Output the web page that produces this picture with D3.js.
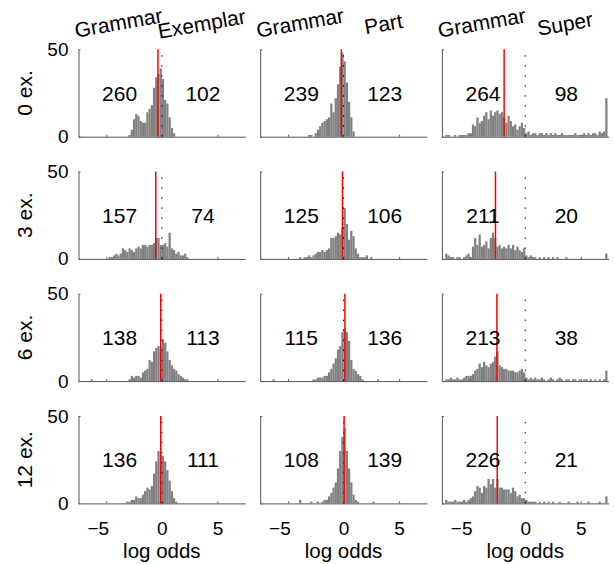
<!DOCTYPE html>
<html>
<head>
<meta charset="utf-8">
<title>Log odds histograms</title>
<style>
body { margin: 0; background: #fff; }
svg { font-family: "Liberation Sans", Arial, Helvetica, sans-serif; }
.axis path, .axis line { stroke: #555; }
.axis text { font-size: 19px; fill: #000; }
.bar { fill: #808080; }
.num, .title, .rowlab { font-size: 21px; fill: #000; }
.xlab { font-size: 20.5px; fill: #000; }
</style>
<script src="https://cdn.jsdelivr.net/npm/d3@7"></script>
</head>
<body>
<div id="chart"></div>
<script>
// labels
var rowLabels = ["0 ex.", "3 ex.", "6 ex.", "12 ex."];
var conditions = ["Exemplar", "Part", "Super"];
var xTicks = [-5, 0, 5];
var yTicks = [0, 50];

// numbers printed left / right of zero
var leftCounts = [[260, 239, 264], [157, 125, 211], [138, 115, 213], [136, 108, 226]];
var rightCounts = [[102, 123, 98], [74, 106, 20], [113, 136, 38], [111, 139, 21]];

// red marker position (log odds)
var redLine = [[-0.35, -0.2, -1.9], [-0.55, -0.1, -2.68], [-0.1, 0.12, -2.55], [-0.1, 0.05, -2.52]];

// histograms: bin width 0.2, first bin centre, then counts
var binWidth = 0.2;

var start0 = [-2.9, -3.1, -7.3];
var hist0 = [
  [1,4,10,13,12,9,8,8,14,16,18,28,34,36,39,33,21,19,11,5,2],
  [1,1,0,2,4,6,8,9,10,11,19,14,22,30,40,48,43,31,20,11,3],
  [0,1,1,0,0,1,0,1,1,1,1,2,2,7,6,11,8,9,12,14,10,15,12,14,15,13,14,11,8,12,9,6,7,4,6,8,5,
   2,3,1,2,2,1,2,2,1,2,1,2,1,2,1,1,2,1,1,1,1,1,2,1,1,1,2,1,2,1,2,2,1,3,2,3,22]
];

var start3 = [-4.7, -3.9, -7.3];
var hist3 = [
  [1,1,2,3,2,3,6,5,4,6,5,4,6,7,6,8,8,7,8,8,9,12,12,8,8,9,7,15,6,5,3,4,2,2,3,1],
  [1,0,1,1,2,1,2,3,4,4,5,4,5,6,12,12,13,15,14,18,29,20,11,16,13,6,3,1,1,1,2,0,1],
  [0,3,2,1,1,0,1,1,0,1,2,3,1,7,12,8,14,7,8,10,6,12,15,12,7,8,6,7,6,8,6,8,5,7,5,4,6,
   2,1,2,1,1,0,1,0,1,0,1,0,1,0,1,0,0,0,1,0,0,0,0,0,0,0,0,0,0,0,0,0,0,0,0,0,3]
];

var start6 = [-6.3, -6.3, -7.3];
var hist6 = [
  [1,0,0,0,0,0,0,0,0,0,0,0,0,0,0,0,0,1,3,2,3,3,2,5,6,7,12,11,17,19,20,19,24,22,17,12,9,7,6,4,3,2,1,1],
  [1,0,0,0,0,0,0,0,0,0,0,0,0,0,0,0,0,0,1,1,2,2,2,3,3,5,7,10,13,18,20,28,30,28,23,12,7,6,4,3,1,0,0,0,0,0,0,1],
  [0,1,1,2,1,1,2,1,1,2,3,3,3,4,6,7,10,8,11,9,8,10,11,14,17,9,8,7,7,6,6,6,5,5,6,7,5,
   2,1,2,1,2,1,1,2,1,0,1,2,1,0,1,2,1,0,1,1,0,1,1,0,1,0,1,1,0,1,0,1,0,1,0,1,6]
];

var start12 = [-3.1, -3.9, -7.3];
var hist12 = [
  [1,1,2,2,4,3,3,5,7,9,8,10,17,24,30,28,27,24,19,13,7,3,1],
  [2,0,0,0,0,1,0,0,1,0,1,2,2,4,6,9,12,20,30,38,43,30,20,12,5,2,1,0,0,0,0,0,0,1],
  [0,2,1,1,1,2,1,1,1,2,1,2,3,4,7,10,9,6,10,9,14,11,14,9,14,9,9,8,8,8,6,9,7,4,5,3,3,
   2,1,1,1,1,0,1,0,1,0,1,0,1,0,0,1,0,0,0,1,0,0,0,1,0,0,0,0,1,0,0,0,0,1,0,0,4]
];

var starts = [start0, start3, start6, start12];
var hists = [hist0, hist3, hist6, hist12];

// layout
var width = 615, height = 564;
var colX = [78.5, 260.2, 441.9];
var rowY = [49.3, 171.5, 293.7, 416];
var panelW = 166.7, panelH = 87.4;
var labelPos = [-3.8, 3.7];

var svg = d3.select("#chart").append("svg")
  .attr("width", width)
  .attr("height", height);

var x = d3.scaleLinear().domain([-7.5, 7.5]).range([0, panelW]);
var y = d3.scaleLinear().domain([0, 50]).range([panelH, 0]);
var bw = x(binWidth) - x(0);

rowLabels.forEach(function(rl, r) {
  conditions.forEach(function(cond, c) {
    var g = svg.append("g")
      .attr("transform", "translate(" + colX[c] + "," + rowY[r] + ")");

    var data = hists[r][c].map(function(n, i) {
      return {v: starts[r][c] + i * binWidth, n: n};
    }).filter(function(d) { return d.n > 0; });

    g.selectAll(".bar")
      .data(data).enter()
      .append("rect")
      .attr("class", "bar")
      .attr("x", d => x(d.v - binWidth / 2))
      .attr("width", bw)
      .attr("y", d => y(d.n))
      .attr("height", d => y(0) - y(d.n));

    // axes
    var xAxis = d3.axisBottom(x).tickValues(xTicks).tickSize(-2).tickSizeOuter(0).tickPadding(18)
      .tickFormat(d => r === rowLabels.length - 1 ? (d < 0 ? "\u2212" + Math.abs(d) : d) : "");
    var ax = g.append("g")
      .attr("class", "axis")
      .attr("transform", "translate(0," + y(0) + ")")
      .call(xAxis);
    ax.selectAll(".tick text").filter(d => d < 0).attr("dx", "-0.45em");

    var yAxis = d3.axisLeft(y).tickValues(yTicks).tickSize(-2).tickSizeOuter(0).tickPadding(10)
      .tickFormat(d => c === 0 ? d : "");
    g.append("g")
      .attr("class", "axis")
      .call(yAxis);
    g.selectAll(".axis .domain").attr("fill", "none");

    // zero line and marker
    g.append("line")
      .attr("x1", x(0)).attr("x2", x(0))
      .attr("y1", y(0)).attr("y2", y(50))
      .attr("stroke", "#000")
      .attr("stroke-width", 1)
      .attr("stroke-dasharray", "1.5,8.5");

    g.append("line")
      .attr("x1", x(redLine[r][c])).attr("x2", x(redLine[r][c]))
      .attr("y1", y(0)).attr("y2", y(50))
      .attr("stroke", "#ff0000")
      .attr("stroke-width", 1.5);

    // counts
    g.append("text").attr("class", "num")
      .attr("x", x(labelPos[0])).attr("y", y(25)).attr("dy", "0.37em")
      .attr("text-anchor", "middle")
      .text(leftCounts[r][c]);
    g.append("text").attr("class", "num")
      .attr("x", x(labelPos[1])).attr("y", y(25)).attr("dy", "0.37em")
      .attr("text-anchor", "middle")
      .text(rightCounts[r][c]);

    if (r === 0) {
      [["Grammar", labelPos[0], 30], [cond, labelPos[1], 31]].forEach(function(t) {
        svg.append("text").attr("class", "title")
          .attr("text-anchor", "middle")
          .attr("transform", "translate(" + (colX[c] + x(t[1])) + "," + t[2] + ") rotate(-10)")
          .text(t[0]);
      });
    }
    if (r === rowLabels.length - 1) {
      svg.append("text").attr("class", "xlab")
        .attr("text-anchor", "middle")
        .attr("x", colX[c] + x(0))
        .attr("y", 558)
        .text("log odds");
    }
  });

  svg.append("text").attr("class", "rowlab")
    .attr("text-anchor", "middle")
    .attr("transform", "translate(32," + (rowY[r] + panelH / 2) + ") rotate(-90)")
    .text(rl);
});
</script>
</body>
</html>
